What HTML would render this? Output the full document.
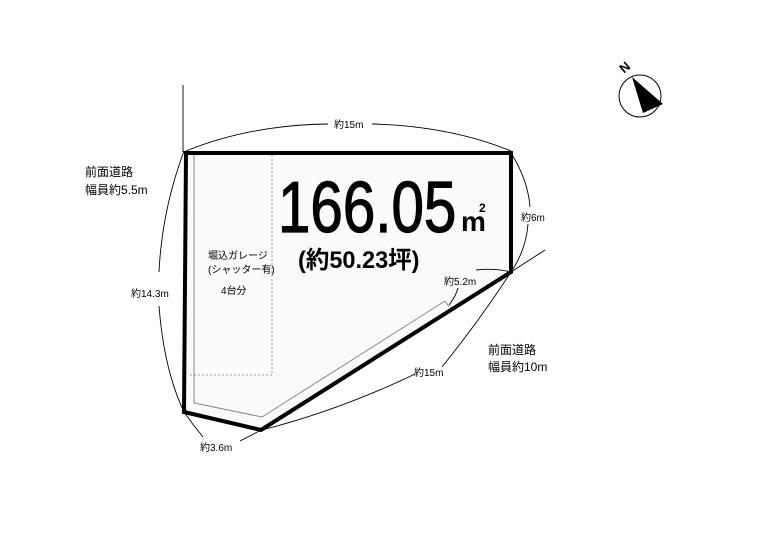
<!DOCTYPE html>
<html><head><meta charset="utf-8"><style>
body{margin:0;background:#fff;}
svg{display:block;}
text{font-family:"Liberation Sans","Noto Sans CJK JP",sans-serif;fill:#000;}
</style></head><body>
<svg width="765" height="556" viewBox="0 0 765 556" xmlns="http://www.w3.org/2000/svg">
<rect width="765" height="556" fill="#fff"/>
<polygon points="186,153 511,153 511,272 261,430 184,412" fill="#fafafa"/>
<path d="M272,155 L272,375 L188,375" fill="none" stroke="#999" stroke-width="1" stroke-dasharray="2,2"/>
<polyline points="194,155 194,403 262,417 445,301 449,307" fill="none" stroke="#888" stroke-width="1"/>
<polygon points="186,153 511,153 511,272 261,430 184,412" fill="none" stroke="#000" stroke-width="4" stroke-linejoin="miter"/>
<g fill="none" stroke="#000" stroke-width="0.9">
<line x1="183" y1="85" x2="183" y2="152"/>
<path d="M186,151 Q250,125 328,124"/>
<path d="M372,124 Q450,126 511,151"/>
<path d="M184,151 Q162,210 159,272"/>
<path d="M159,306 Q164,370 184,412"/>
<path d="M511,153 Q528,180 530,207"/>
<path d="M528,224 Q526,250 511,272"/>
<line x1="511" y1="272" x2="545" y2="250"/>
<path d="M476,270 Q495,268 511,272"/>
<path d="M449,305 Q456,296 458,288"/>
<path d="M511,272 Q480,320 442,367"/>
<path d="M415,374 Q340,410 262,430"/>
<path d="M184,412 Q193,425 203,437"/>
<path d="M240,441 Q250,436 261,430"/>
</g>
<text x="334" y="128" font-size="10">約15m</text>
<text x="85" y="176" font-size="12">前面道路</text>
<text x="85" y="194" font-size="12">幅員約5.5m</text>
<text x="131" y="297" font-size="10">約14.3m</text>
<text x="521" y="221" font-size="10">約6m</text>
<text x="444" y="285" font-size="10">約5.2m</text>
<text x="414" y="376" font-size="10">約15m</text>
<text x="488" y="354" font-size="12">前面道路</text>
<text x="488" y="371" font-size="12">幅員約10m</text>
<text x="200" y="451" font-size="10">約3.6m</text>
<text x="208" y="259" font-size="10">堀込ガレージ</text>
<text x="208" y="273" font-size="10">(シャッター有)</text>
<text x="221" y="294" font-size="10">4台分</text>
<text x="0" y="0" font-size="72" stroke="#000" stroke-width="1.2" transform="translate(278,232) scale(0.81,1)">166.05</text>
<text x="461" y="231" font-size="28" font-weight="bold">m</text>
<text x="479" y="212" font-size="12" font-weight="bold">2</text>
<text x="0" y="0" font-size="24" font-weight="bold" transform="translate(298,268) scale(0.98,1)">(約50.23坪)</text>
<circle cx="640" cy="96" r="21" fill="#fff" stroke="#000" stroke-width="1"/>
<polygon points="632,77 663,104 643,113" fill="#000"/>
<text x="619" y="72" font-size="13" font-weight="bold" transform="rotate(-40 624 66)">N</text>
</svg>
</body></html>
